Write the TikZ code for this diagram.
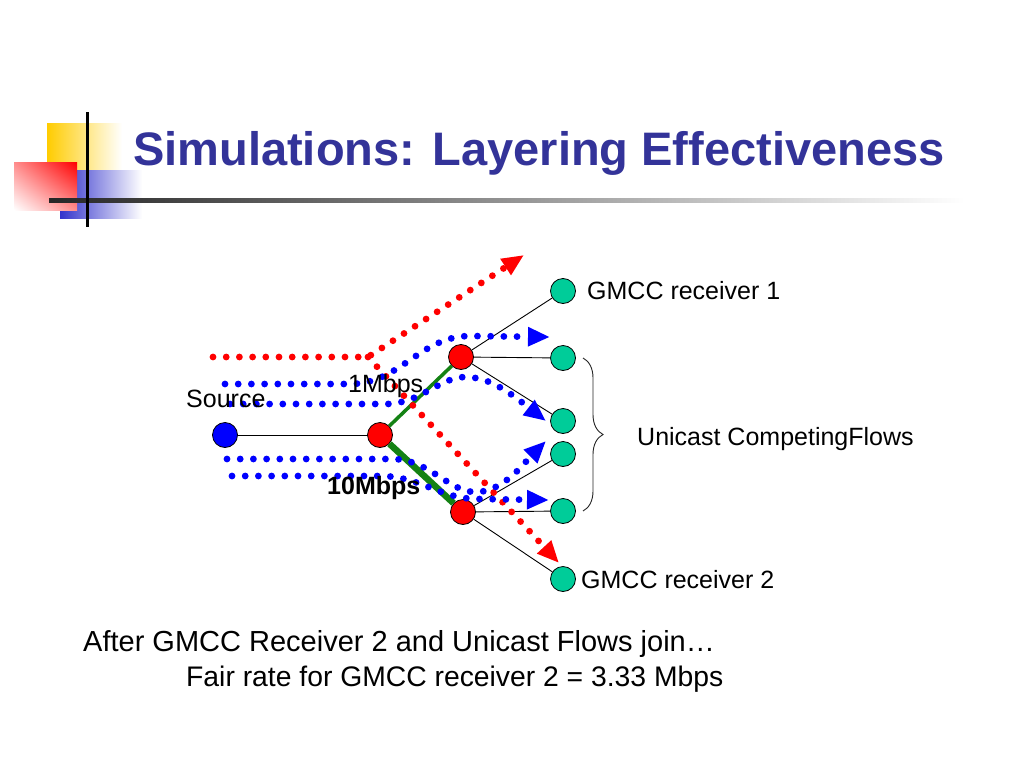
\documentclass[tikz,border=0pt]{standalone}
\usepackage{fontspec}
\setmainfont{Liberation Sans}
\usetikzlibrary{arrows.meta,decorations.pathreplacing,shadings}
\definecolor{titleblue}{RGB}{51,51,153}
\definecolor{rxgreen}{RGB}{0,204,153}
\definecolor{linkgreen}{RGB}{20,130,20}
\definecolor{decoyellow}{RGB}{255,204,0}
\definecolor{decoblue}{RGB}{51,51,204}
\tikzset{
  netnode/.style={circle, draw=black, line width=0.8pt, minimum size=25pt, inner sep=0pt},
  srcnode/.style={netnode, fill=blue},
  rtnode/.style={netnode, fill=red},
  rxnode/.style={netnode, fill=rxgreen},
  thinlink/.style={draw=black, line width=0.9pt},
  dotflow/.style={line width=6.8pt, line cap=round, dash pattern=on 0pt off 13.2pt},
  redflow/.style={dotflow, draw=red, -{Triangle[length=22pt,width=18pt]}},
  blueflow/.style={dotflow, draw=blue, -{Triangle[length=22pt,width=18pt]}},
  lbl/.style={inner sep=0pt, anchor=base west, font=\fontsize{25}{30}\selectfont},
  bottomtxt/.style={inner sep=0pt, anchor=base west, font=\fontsize{29}{34}\selectfont},
}
\begin{document}
\begin{tikzpicture}[x=1pt,y=-1pt]
\useasboundingbox[fill=white] (0,0) rectangle (1024,768);

% decoration top-left
\shade[left color=decoyellow, middle color=decoyellow, right color=white] (47,123) rectangle (122,178);
\shade[left color=decoblue, middle color=decoblue, right color=white] (60,170) rectangle (142,218);
\shade[upper right=red, upper left=red!45, lower right=red!45, lower left=white] (14,162) rectangle (77,210);
\shade[left color=black!85, middle color=black!30, right color=white] (49,198) rectangle (965,202);
\draw[black, line width=3pt] (87,112) -- (87,227);

% title
\node[inner sep=0pt, anchor=base west, text=titleblue, font=\fontsize{47}{56}\selectfont\bfseries] (title) at (133,165) {Simulations: Layering Effectiveness};

% nodes
\node[srcnode] (src) at (225,435) {};
\node[rtnode] (r1) at (380,435) {};
\node[rtnode] (r2) at (461,357) {};
\node[rtnode] (r3) at (463,512) {};
\node[rxnode] (g1) at (563,291) {};
\node[rxnode] (g2) at (563,358) {};
\node[rxnode] (g3) at (563,421) {};
\node[rxnode] (g4) at (563,454) {};
\node[rxnode] (g5) at (563,511) {};
\node[rxnode] (g6) at (563,579) {};

% links
\draw[thinlink] (src) -- (r1);
\draw[draw=linkgreen, line width=3.5pt] (r1) -- (r2);
\draw[draw=linkgreen, line width=6.5pt] (r1) -- (r3);
\draw[thinlink] (r2) -- (g1);
\draw[thinlink] (r2) -- (g2);
\draw[thinlink] (r2) -- (g3);
\draw[thinlink] (r3) -- (g4);
\draw[thinlink] (r3) -- (g5);
\draw[thinlink] (r3) -- (g6);

% flows
\coordinate (rbend) at (368,357);
\coordinate (rtip1) at (524,255);
\coordinate (rtip2) at (559,563);
\draw[redflow] (213,357) -- (rbend) -- (rtip1);
\draw[redflow] (rbend) -- (rtip2);

\coordinate (btip1) at (550,337);
\coordinate (btip2) at (546,421);
\coordinate (btip3) at (546,441);
\coordinate (btip4) at (549,500);
\draw[blueflow] (225,384) -- (350,384) .. controls (400,384) and (420,336) .. (470,336) -- (btip1);
\draw[blueflow] (230,404) -- (385,404) .. controls (420,404) and (440,377) .. (465,377) .. controls (490,377) and (510,393) .. (btip2);
\draw[blueflow] (227,459) -- (392,459) .. controls (430,459) and (450,494) .. (478,492) .. controls (505,490) and (525,462) .. (btip3);
\draw[blueflow] (232,476) -- (380,476) .. controls (420,476) and (440,499) .. (478,499) -- (btip4);

% brace
\coordinate (btop) at (583,358);
\coordinate (bbot) at (583,511);
\draw[black!85, line width=0.9pt, decorate, decoration={brace, amplitude=20pt}] (btop) -- (bbot);

% labels
\node[lbl] (lg1) at (587,299) {GMCC receiver 1};
\node[lbl] (lg6) at (581,588) {GMCC receiver 2};
\node[lbl] (luni) at (637,445) {Unicast CompetingFlows};
\node[lbl] (lsrc) at (186,407) {Source};
\node[lbl] (l1m) at (348,392) {1Mbps};
\node[lbl, font=\fontsize{25}{30}\selectfont\bfseries] (l10m) at (327,494) {10Mbps};

\node[bottomtxt] (b1) at (83,651) {After GMCC Receiver 2 and Unicast Flows join…};
\node[bottomtxt, font=\fontsize{28.3}{34}\selectfont] (b2) at (186,686) {Fair rate for GMCC receiver 2 = 3.33 Mbps};
\end{tikzpicture}
\end{document}
